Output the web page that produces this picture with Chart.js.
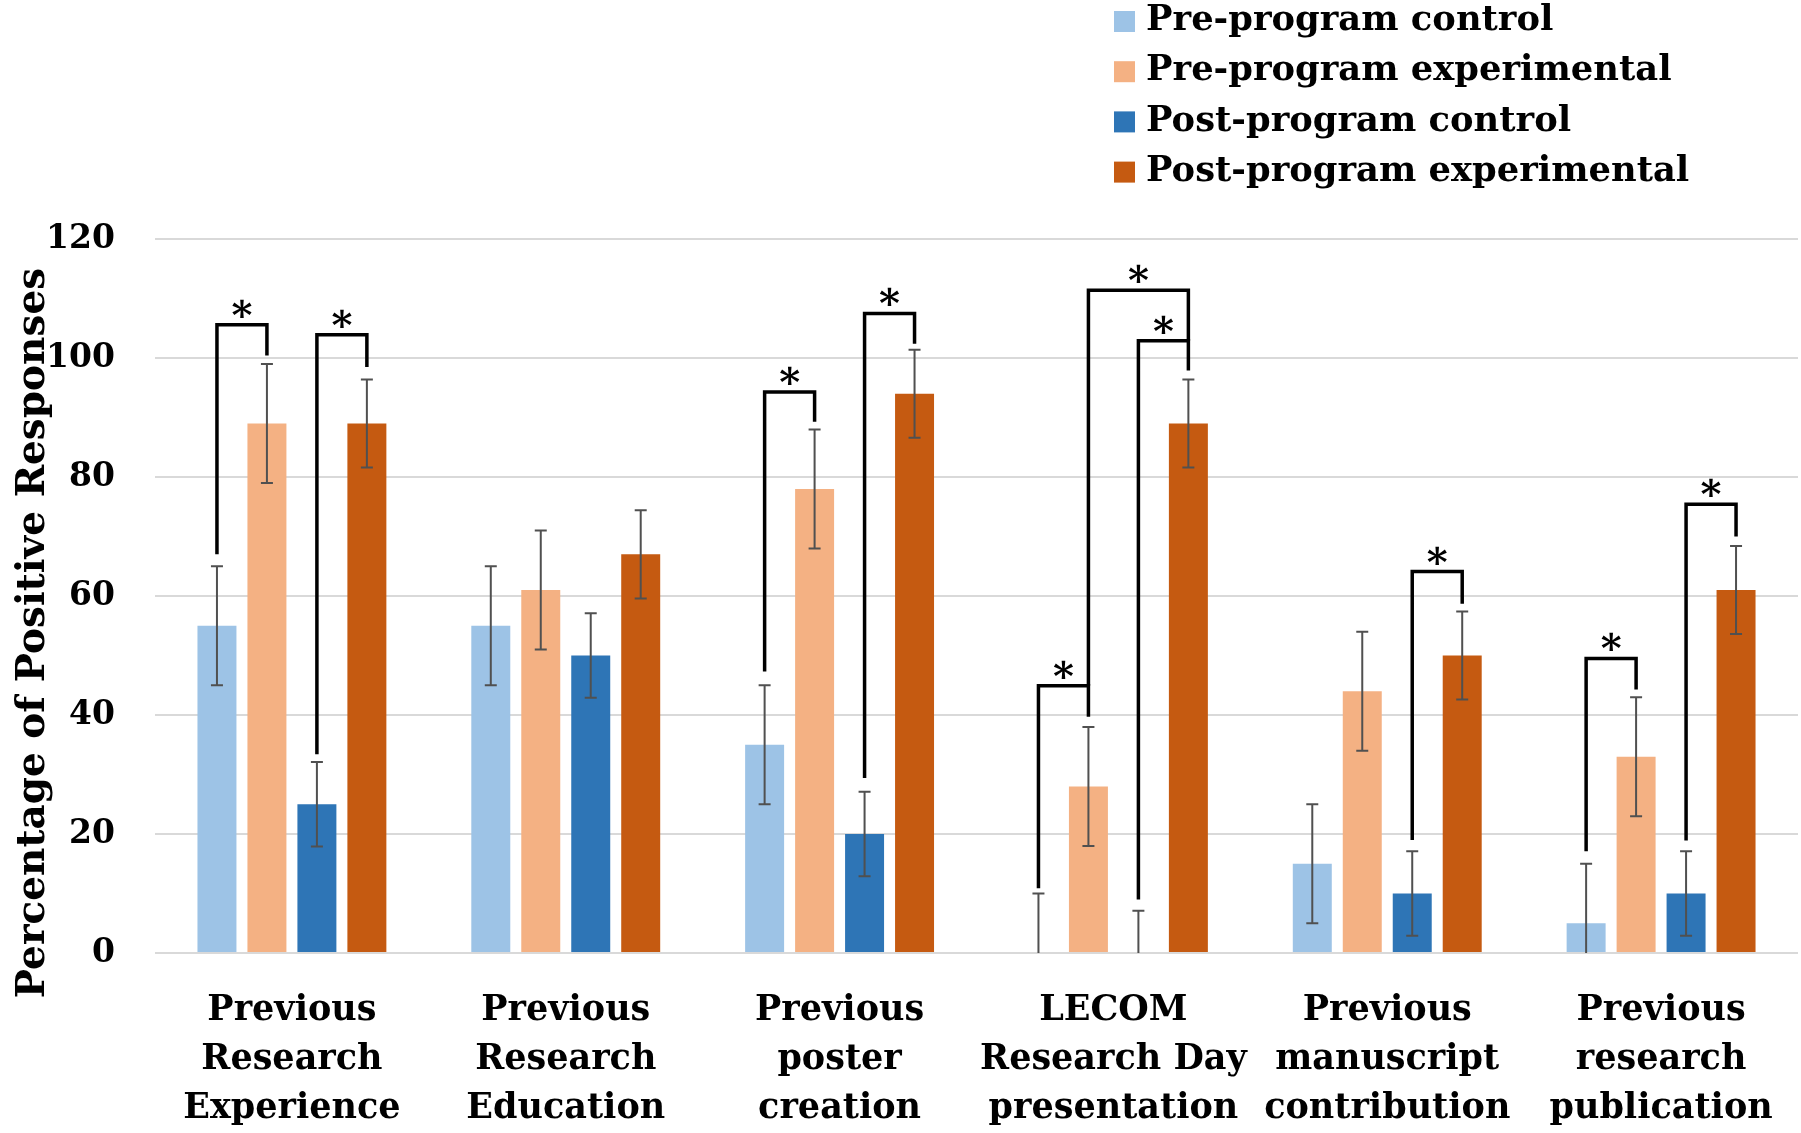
<!DOCTYPE html>
<html>
<head>
<meta charset="utf-8">
<script src="https://cdn.jsdelivr.net/npm/chart.js@4.4.0/dist/chart.umd.min.js"></script>
<style>
    html, body { margin: 0; padding: 0; background: #ffffff; }
    #chart-container { width: 1801px; height: 1133px; }
</style>
</head>
<body>
<div id="chart-container"><canvas id="graphCanvas" width="1801" height="1133"></canvas></div>
<script>
var categories = [
    ['Previous', 'Research', 'Experience'],
    ['Previous', 'Research', 'Education'],
    ['Previous', 'poster', 'creation'],
    ['LECOM', 'Research Day', 'presentation'],
    ['Previous', 'manuscript', 'contribution'],
    ['Previous', 'research', 'publication']
];
var seriesNames = ['Pre-program control', 'Pre-program experimental', 'Post-program control', 'Post-program experimental'];
var seriesColors = ['#9DC3E6', '#F4B183', '#2E75B6', '#C55A11'];

var preControl = [55, 55, 35, 0, 15, 5];
var preExperimental = [89, 61, 78, 28, 44, 33];
var postControl = [25, 50, 20, 0, 10, 10];
var postExperimental = [89, 67, 94, 89, 50, 61];

var preControlErr = [10, 10, 10, 10, 10, 10];
var preExperimentalErr = [10, 10, 10, 10, 10, 10];
var postControlErr = [7.1, 7.1, 7.1, 7.1, 7.1, 7.1];
var postExperimentalErr = [7.4, 7.4, 7.4, 7.4, 7.4, 7.4];

var yTitle = 'Percentage of Positive Responses';
var yMin = 0;
var yMax = 120;
var yStep = 20;

// significance brackets: [category, from series, to series, bracket level, left leg end, right leg end]
var brackets = [
    [0, 0, 1, 105.6, 67, 100.4],
    [0, 2, 3, 103.9, 33.4, 98.5],
    [2, 0, 1, 94.3, 47.3, 89.3],
    [2, 2, 3, 107.5, 29.4, 102.4],
    [3, 0, 1, 44.9, 10.9, 39.7],
    [3, 2, 3, 102.9, 9, 97.9],
    [3, 1, 3, 111.4, 44.9, 102.9],
    [4, 2, 3, 64.1, 19, 58.7],
    [5, 0, 1, 49.5, 17.1, 44.3],
    [5, 2, 3, 75.4, 18.9, 70]
];

var seriesValues = [preControl, preExperimental, postControl, postExperimental];
var seriesErrors = [preControlErr, preExperimentalErr, postControlErr, postExperimentalErr];
var serif = 'DejaVu Serif';

var errorBars = {
    id: 'errorBars',
    afterDatasetsDraw: function (chart) {
        var ctx = chart.ctx;
        var y = chart.scales.y;
        ctx.save();
        ctx.strokeStyle = '#505050';
        ctx.lineWidth = 2;
        for (var d = 0; d < chart.data.datasets.length; d++) {
            var meta = chart.getDatasetMeta(d);
            var values = chart.data.datasets[d].data;
            meta.data.forEach(function (bar, i) {
                var err = seriesErrors[d][i];
                var hi = y.getPixelForValue(values[i] + err);
                var low = values[i] - err;
                var lo = y.getPixelForValue(Math.max(yMin, low));
                ctx.beginPath();
                ctx.moveTo(bar.x, hi);
                ctx.lineTo(bar.x, lo);
                ctx.moveTo(bar.x - 6, hi);
                ctx.lineTo(bar.x + 6, hi);
                if (low > yMin) {
                    ctx.moveTo(bar.x - 6, lo);
                    ctx.lineTo(bar.x + 6, lo);
                }
                ctx.stroke();
            });
        }
        ctx.restore();
    }
};

var sigBrackets = {
    id: 'sigBrackets',
    afterDatasetsDraw: function (chart) {
        var ctx = chart.ctx;
        var y = chart.scales.y;
        ctx.save();
        ctx.strokeStyle = '#000000';
        ctx.fillStyle = '#000000';
        ctx.lineWidth = 3.5;
        ctx.lineJoin = 'miter';
        ctx.font = 'bold 40px ' + serif;
        ctx.textAlign = 'center';
        ctx.textBaseline = 'alphabetic';
        brackets.forEach(function (b) {
            var xa = chart.getDatasetMeta(b[1]).data[b[0]].x;
            var xb = chart.getDatasetMeta(b[2]).data[b[0]].x;
            var yl = y.getPixelForValue(b[3]);
            ctx.beginPath();
            ctx.moveTo(xa, y.getPixelForValue(b[4]));
            ctx.lineTo(xa, yl);
            ctx.lineTo(xb, yl);
            ctx.lineTo(xb, y.getPixelForValue(b[5]));
            ctx.stroke();
            ctx.fillText('*', (xa + xb) / 2, yl + 4);
        });
        ctx.restore();
    }
};

// legend as a vertical list in the top right, plus the axis title
var sideTexts = {
    id: 'sideTexts',
    afterDraw: function (chart) {
        var ctx = chart.ctx;
        ctx.save();
        ctx.font = 'bold 35.3px ' + serif;
        ctx.textAlign = 'left';
        ctx.textBaseline = 'middle';
        chart.data.datasets.forEach(function (ds, i) {
            var rowY = 21 + i * 50.2;
            ctx.fillStyle = ds.backgroundColor;
            ctx.fillRect(1114, rowY - 10, 21, 21);
            ctx.fillStyle = '#000000';
            ctx.fillText(ds.label, 1146, rowY);
        });

        ctx.translate(44, 633);
        ctx.rotate(-Math.PI / 2);
        ctx.font = 'bold 39px ' + serif;
        ctx.textAlign = 'center';
        ctx.textBaseline = 'alphabetic';
        ctx.fillText(yTitle, 0, 0);
        ctx.restore();
    }
};

var datasets = [];
for (var s = 0; s < seriesNames.length; s++) {
    datasets.push({
        label: seriesNames[s],
        data: seriesValues[s],
        backgroundColor: seriesColors[s],
        borderWidth: 0,
        categoryPercentage: 0.73,
        barPercentage: 0.78
    });
}

var graphTarget = document.getElementById('graphCanvas');
var barGraph = new Chart(graphTarget, {
    type: 'bar',
    data: { labels: categories, datasets: datasets },
    plugins: [errorBars, sigBrackets, sideTexts],
    options: {
        responsive: false,
        animation: false,
        devicePixelRatio: 1,
        layout: { padding: { top: 239, right: 3, left: 0, bottom: 0 } },
        plugins: {
            legend: { display: false },
            tooltip: { enabled: false }
        },
        scales: {
            x: {
                grid: { display: false },
                border: { display: false },
                ticks: {
                    color: '#000000',
                    font: { family: serif, size: 35, weight: 'bold', lineHeight: 1.4 },
                    maxRotation: 0,
                    minRotation: 0,
                    autoSkip: false,
                    padding: 25
                },
                afterFit: function (scale) { scale.height = 180; }
            },
            y: {
                min: yMin,
                max: yMax,
                ticks: {
                    stepSize: yStep,
                    color: '#000000',
                    font: { family: serif, size: 33, weight: 'bold' },
                    padding: 40
                },
                grid: { color: '#d9d9d9', lineWidth: 2, drawTicks: false },
                border: { display: false },
                afterFit: function (scale) { scale.width = 155; }
            }
        }
    }
});
</script>
</body>
</html>
